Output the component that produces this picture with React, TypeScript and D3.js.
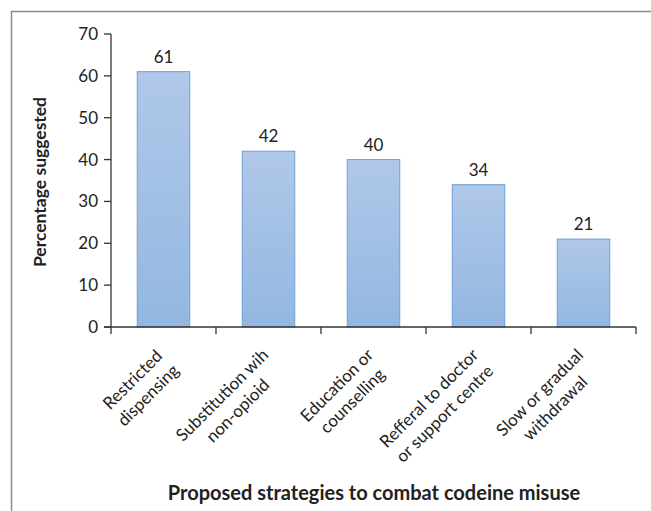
import React from "react";
import * as d3 from "d3";

const categories: string[][] = [
  ["Restricted", "dispensing"],
  ["Substitution wih", "non-opioid"],
  ["Education or", "counselling"],
  ["Refferal to doctor", "or support centre"],
  ["Slow or gradual", "withdrawal"],
];
const values: number[] = [61, 42, 40, 34, 21];
const yTicks: number[] = [0, 10, 20, 30, 40, 50, 60, 70];

const W = 651;
const H = 511;
const FONT = "Lato, 'Open Sans', sans-serif";

const measureCtx = (() => {
  if (typeof document === "undefined") return null;
  const c = document.createElement("canvas");
  return c.getContext("2d");
})();

function textWidth(s: string, size: number): number {
  if (!measureCtx) return s.length * size * 0.5;
  measureCtx.font = `${size}px Lato`;
  return measureCtx.measureText(s).width;
}

export default function App() {
  const left = 111;
  const right = 636;
  const top = 34;
  const bottom = 327;

  const x = d3
    .scaleBand<number>()
    .domain(d3.range(categories.length))
    .range([left, right])
    .paddingInner(0.5)
    .paddingOuter(0.25);
  const y = d3.scaleLinear().domain([0, 70]).range([bottom, top]);

  const bandEdges = d3.range(categories.length + 1).map(
    (i) => left + ((right - left) / categories.length) * i
  );

  const labelSize = 17;
  const lineH = 22;
  const c45 = Math.SQRT1_2;

  return (
    <svg
      width={W}
      height={H}
      style={{ position: "absolute", left: 0, top: 0, background: "#fff" }}
    >
      <defs>
        <linearGradient id="barFill" x1="0" y1="0" x2="0" y2="1">
          <stop offset="0%" stopColor="#b0c8e9" />
          <stop offset="100%" stopColor="#93b7e1" />
        </linearGradient>
      </defs>

      {/* chart frame */}
      <rect
        x={11.5}
        y={11.5}
        width={W + 20}
        height={H + 20}
        fill="none"
        stroke="#8a8a8a"
        strokeWidth={1.5}
      />

      {/* bars */}
      {values.map((v, i) => (
        <g key={i}>
          <rect
            x={x(i)!}
            y={y(v)}
            width={x.bandwidth()}
            height={y(0) - y(v)}
            fill="url(#barFill)"
            stroke="#6c9fd6"
            strokeWidth={1}
          />
          <text
            x={x(i)! + x.bandwidth() / 2}
            y={y(v) - 15}
            textAnchor="middle"
            dy="0.35em"
            fontFamily={FONT}
            fontSize={17}
            fill="#222"
          >
            {v}
          </text>
        </g>
      ))}

      {/* y axis */}
      <line x1={left} x2={left} y1={top} y2={bottom} stroke="#333" strokeWidth={1.3} />
      {yTicks.map((t) => (
        <g key={t}>
          <line x1={left - 7} x2={left} y1={y(t)} y2={y(t)} stroke="#333" strokeWidth={1.3} />
          <text
            x={left - 13}
            y={y(t)}
            dy="0.35em"
            textAnchor="end"
            fontFamily={FONT}
            fontSize={17}
            fill="#222"
          >
            {t}
          </text>
        </g>
      ))}

      {/* x axis */}
      <line x1={left - 7} x2={right} y1={bottom} y2={bottom} stroke="#333" strokeWidth={1.3} />
      {bandEdges.map((e, i) => (
        <line key={i} x1={e} x2={e} y1={bottom} y2={bottom + 7} stroke="#333" strokeWidth={1.3} />
      ))}

      {/* rotated category labels */}
      {categories.map((lines, i) => {
        const w = Math.max(...lines.map((l) => textWidth(l, labelSize)));
        const h = lines.length * lineH;
        const ax = x(i)! + x.bandwidth() / 2 - 11;
        const ay = bottom + 17;
        const cx = ax + c45 * (-w / 2) + c45 * (h / 2);
        const cy = ay + c45 * (w / 2) + c45 * (h / 2);
        return (
          <g key={i} transform={`translate(${cx},${cy}) rotate(-45)`}>
            {lines.map((l, j) => (
              <text
                key={j}
                x={0}
                y={(j - (lines.length - 1) / 2) * lineH}
                dy="0.35em"
                textAnchor="middle"
                fontFamily={FONT}
                fontSize={labelSize}
                fill="#222"
              >
                {l}
              </text>
            ))}
          </g>
        );
      })}

      {/* axis titles */}
      <text
        transform={`translate(40,182) rotate(-90)`}
        textAnchor="middle"
        dy="0.35em"
        fontFamily={FONT}
        fontWeight="bold"
        fontSize={17.5}
        fill="#222"
      >
        Percentage suggested
      </text>
      <text
        x={374}
        y={493}
        dy="0.35em"
        textAnchor="middle"
        fontFamily={FONT}
        fontWeight="bold"
        fontSize={20}
        fill="#222"
      >
        Proposed strategies to combat codeine misuse
      </text>
    </svg>
  );
}
